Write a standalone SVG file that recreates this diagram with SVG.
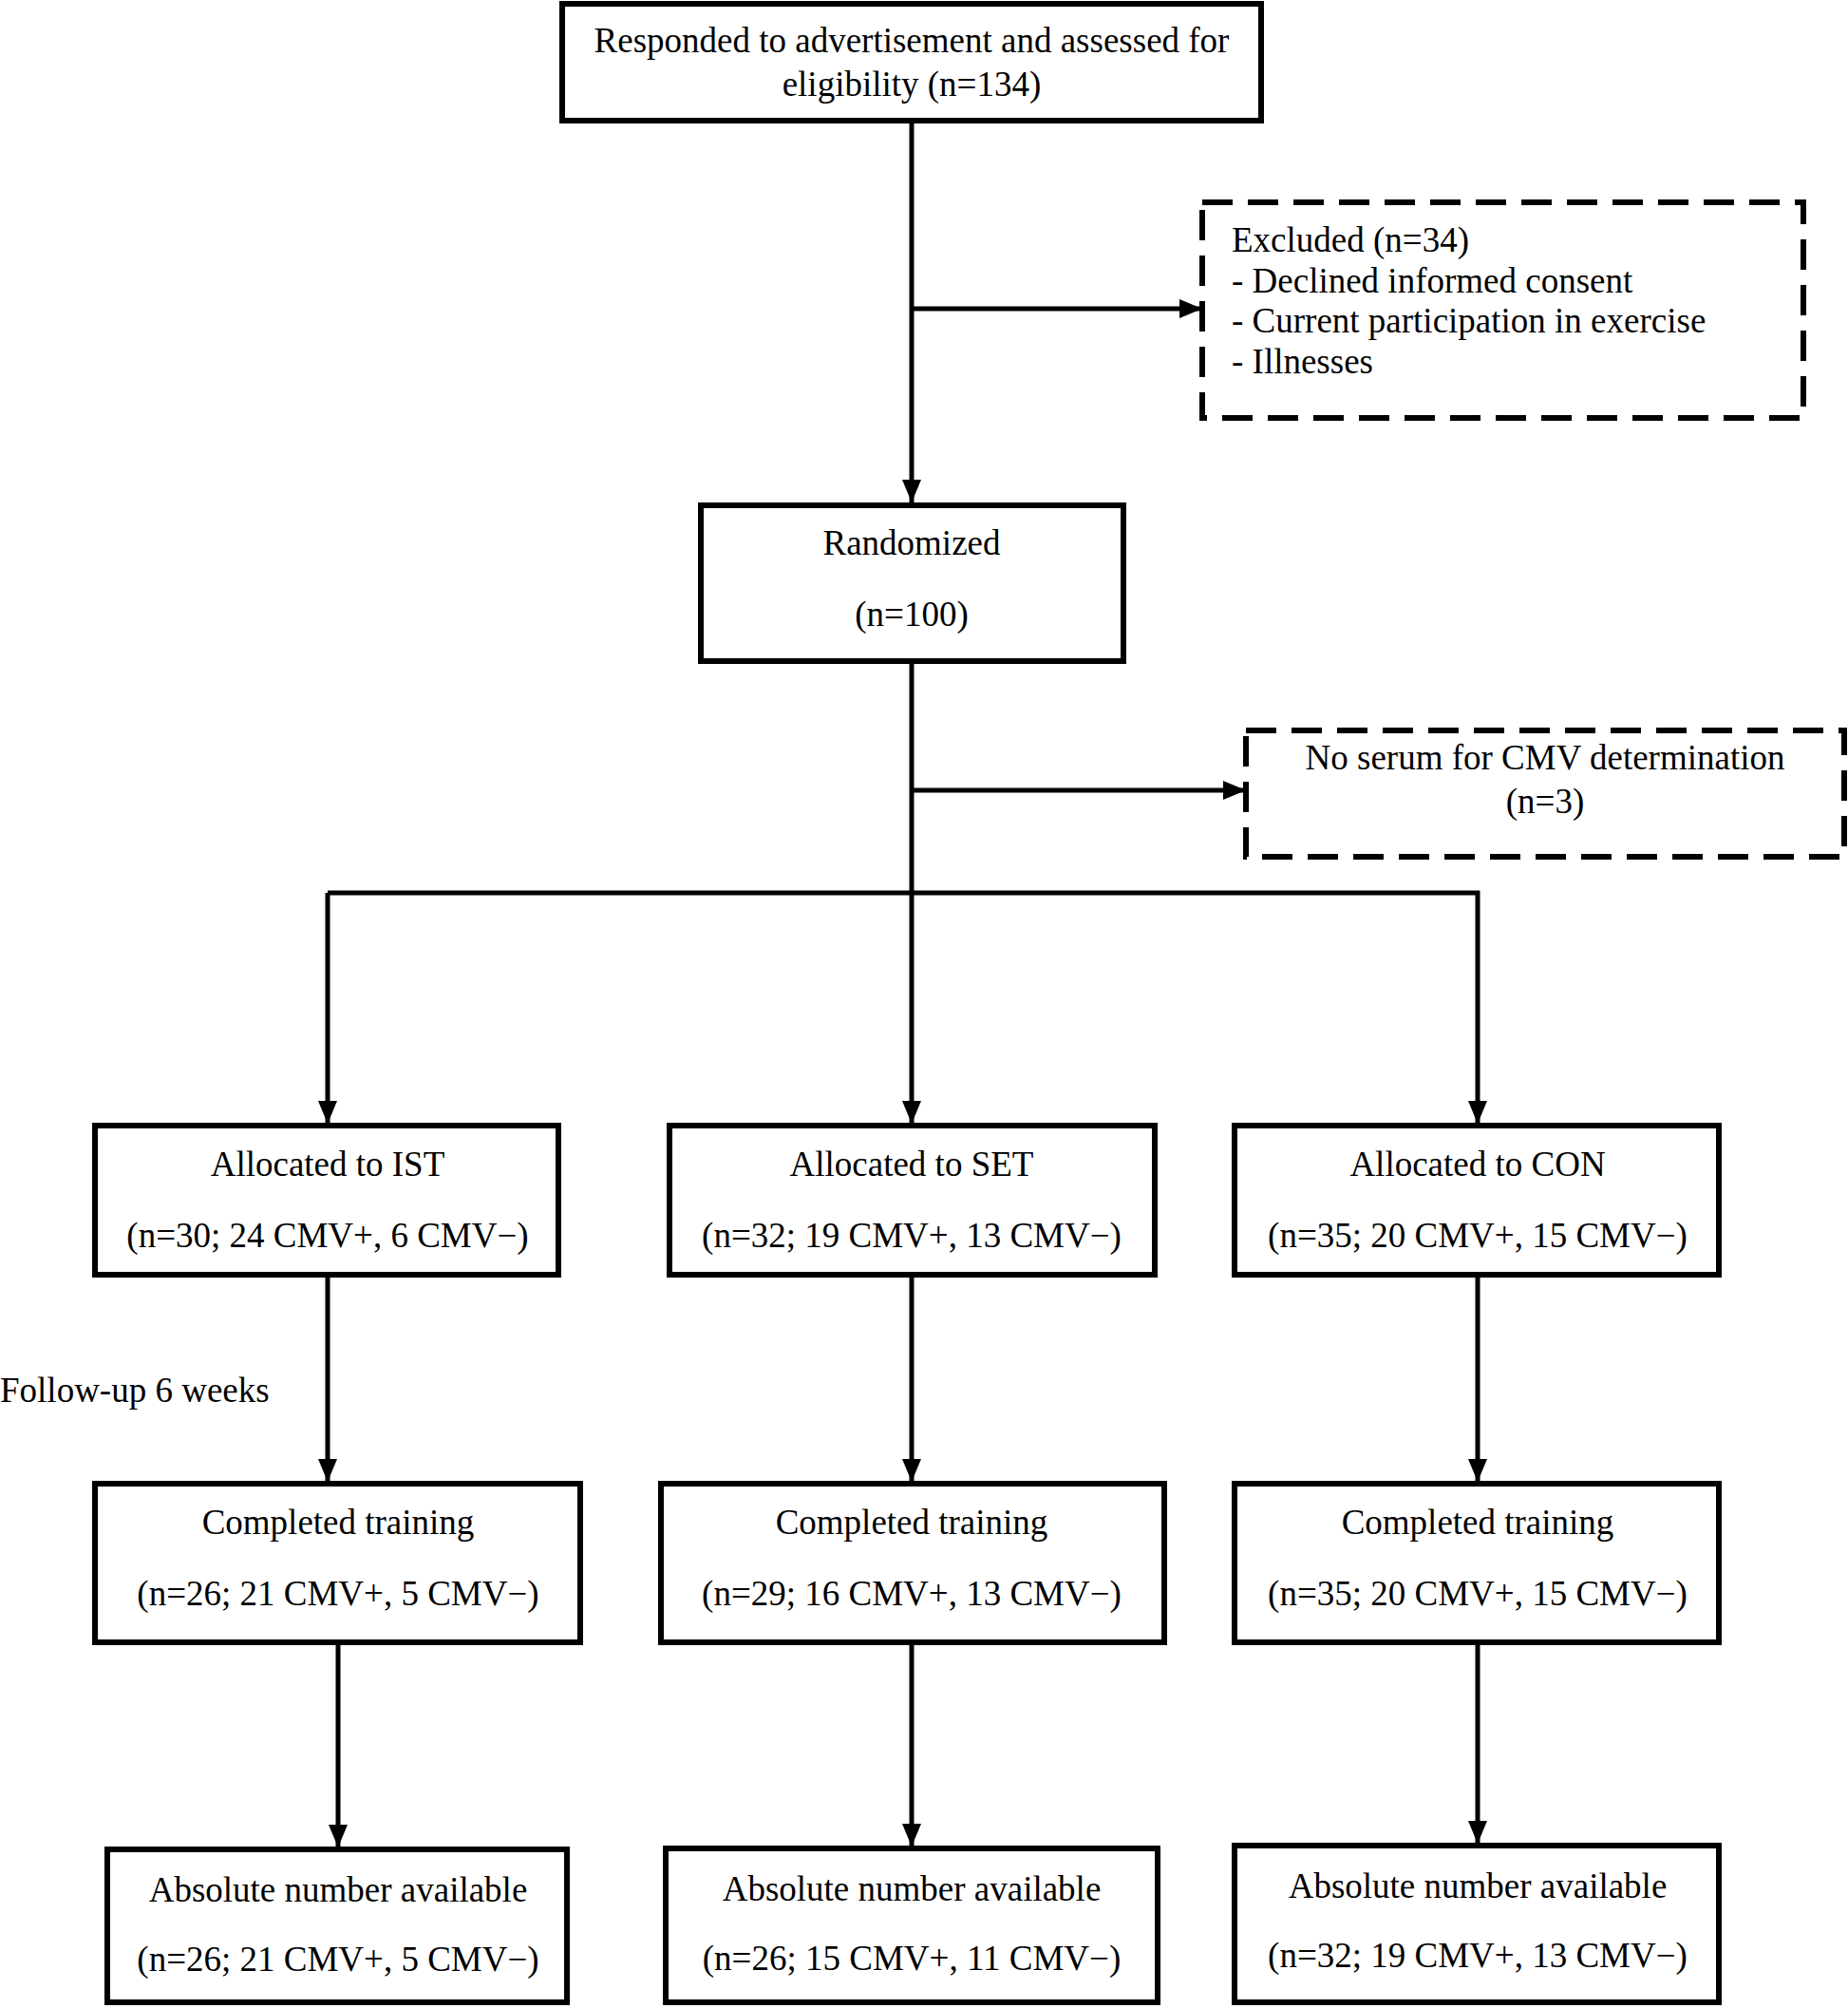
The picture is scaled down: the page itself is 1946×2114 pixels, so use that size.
<svg xmlns="http://www.w3.org/2000/svg" width="1946" height="2114" viewBox="0 0 1946 2114">
<defs>
<marker id="arr" markerUnits="userSpaceOnUse" markerWidth="24" markerHeight="20" refX="24" refY="10" orient="auto">
<path d="M0,0 L24,10 L0,20 Z" fill="#000"/>
</marker>
<style>
.box{fill:#fff;stroke:#000;stroke-width:6}
.dash{fill:#fff;stroke:#000;stroke-width:6;stroke-dasharray:32 16}
.ln{fill:none;stroke:#000;stroke-width:5}
text{font-family:"Liberation Serif","Times New Roman",serif;font-size:37px;fill:#000}
.c{text-anchor:middle}
</style>
</defs>
<rect width="1946" height="2114" fill="#fff"/>
<g id="connectors">
<line class="ln" x1="960" y1="127" x2="960" y2="529" marker-end="url(#arr)"/>
<line class="ln" x1="960" y1="325" x2="1266" y2="325" marker-end="url(#arr)"/>
<line class="ln" x1="960" y1="696" x2="960" y2="940"/>
<line class="ln" x1="960" y1="832" x2="1312" y2="832" marker-end="url(#arr)"/>
<polyline class="ln" points="345,940 1556,940 1556,1183" marker-end="url(#arr)"/>
<line class="ln" x1="345" y1="940" x2="345" y2="1183" marker-end="url(#arr)"/>
<line class="ln" x1="960" y1="940" x2="960" y2="1183" marker-end="url(#arr)"/>
<line class="ln" x1="345" y1="1342" x2="345" y2="1560" marker-end="url(#arr)"/>
<line class="ln" x1="960" y1="1342" x2="960" y2="1560" marker-end="url(#arr)"/>
<line class="ln" x1="1556" y1="1342" x2="1556" y2="1560" marker-end="url(#arr)"/>
<line class="ln" x1="356" y1="1729" x2="356" y2="1945" marker-end="url(#arr)"/>
<line class="ln" x1="960" y1="1729" x2="960" y2="1944" marker-end="url(#arr)"/>
<line class="ln" x1="1556" y1="1729" x2="1556" y2="1941" marker-end="url(#arr)"/>
</g>
<g id="n-assessed">
<rect class="box" x="592" y="4" width="736" height="123"/>
<text class="c" x="960" y="55">Responded to advertisement and assessed for</text>
<text class="c" x="960" y="101">eligibility (n=134)</text>
</g>
<g id="n-excluded">
<rect class="dash" x="1266" y="213" width="633" height="227"/>
<text x="1297" y="265">Excluded (n=34)</text>
<text x="1297" y="308">- Declined informed consent</text>
<text x="1297" y="350">- Current participation in exercise</text>
<text x="1297" y="393">- Illnesses</text>
</g>
<g id="n-randomized">
<rect class="box" x="738" y="532" width="445" height="164"/>
<text class="c" x="960" y="584">Randomized</text>
<text class="c" x="960" y="659">(n=100)</text>
</g>
<g id="n-noserum">
<rect class="dash" x="1312" y="769" width="630" height="133"/>
<text class="c" x="1627" y="810">No serum for CMV determination</text>
<text class="c" x="1627" y="856">(n=3)</text>
</g>
<g id="n-alloc-ist">
<rect class="box" x="100" y="1185" width="488" height="157"/>
<text class="c" x="345" y="1238">Allocated to IST</text>
<text class="c" x="345" y="1313">(n=30; 24 CMV+, 6 CMV−)</text>
</g>
<g id="n-alloc-set">
<rect class="box" x="705" y="1185" width="511" height="157"/>
<text class="c" x="960" y="1238">Allocated to SET</text>
<text class="c" x="960" y="1313">(n=32; 19 CMV+, 13 CMV−)</text>
</g>
<g id="n-alloc-con">
<rect class="box" x="1300" y="1185" width="510" height="157"/>
<text class="c" x="1556" y="1238">Allocated to CON</text>
<text class="c" x="1556" y="1313">(n=35; 20 CMV+, 15 CMV−)</text>
</g>
<g id="n-followup">
<text x="0" y="1476">Follow-up 6 weeks</text>
</g>
<g id="n-comp-ist">
<rect class="box" x="100" y="1562" width="511" height="167"/>
<text class="c" x="356" y="1615">Completed training</text>
<text class="c" x="356" y="1690">(n=26; 21 CMV+, 5 CMV−)</text>
</g>
<g id="n-comp-set">
<rect class="box" x="696" y="1562" width="530" height="167"/>
<text class="c" x="960" y="1615">Completed training</text>
<text class="c" x="960" y="1690">(n=29; 16 CMV+, 13 CMV−)</text>
</g>
<g id="n-comp-con">
<rect class="box" x="1300" y="1562" width="510" height="167"/>
<text class="c" x="1556" y="1615">Completed training</text>
<text class="c" x="1556" y="1690">(n=35; 20 CMV+, 15 CMV−)</text>
</g>
<g id="n-abs-ist">
<rect class="box" x="113" y="1947" width="484" height="161"/>
<text class="c" x="356" y="2002">Absolute number available</text>
<text class="c" x="356" y="2075">(n=26; 21 CMV+, 5 CMV−)</text>
</g>
<g id="n-abs-set">
<rect class="box" x="701" y="1946" width="518" height="162"/>
<text class="c" x="960" y="2001">Absolute number available</text>
<text class="c" x="960" y="2074">(n=26; 15 CMV+, 11 CMV−)</text>
</g>
<g id="n-abs-con">
<rect class="box" x="1300" y="1943" width="510" height="165"/>
<text class="c" x="1556" y="1998">Absolute number available</text>
<text class="c" x="1556" y="2071">(n=32; 19 CMV+, 13 CMV−)</text>
</g>
</svg>
